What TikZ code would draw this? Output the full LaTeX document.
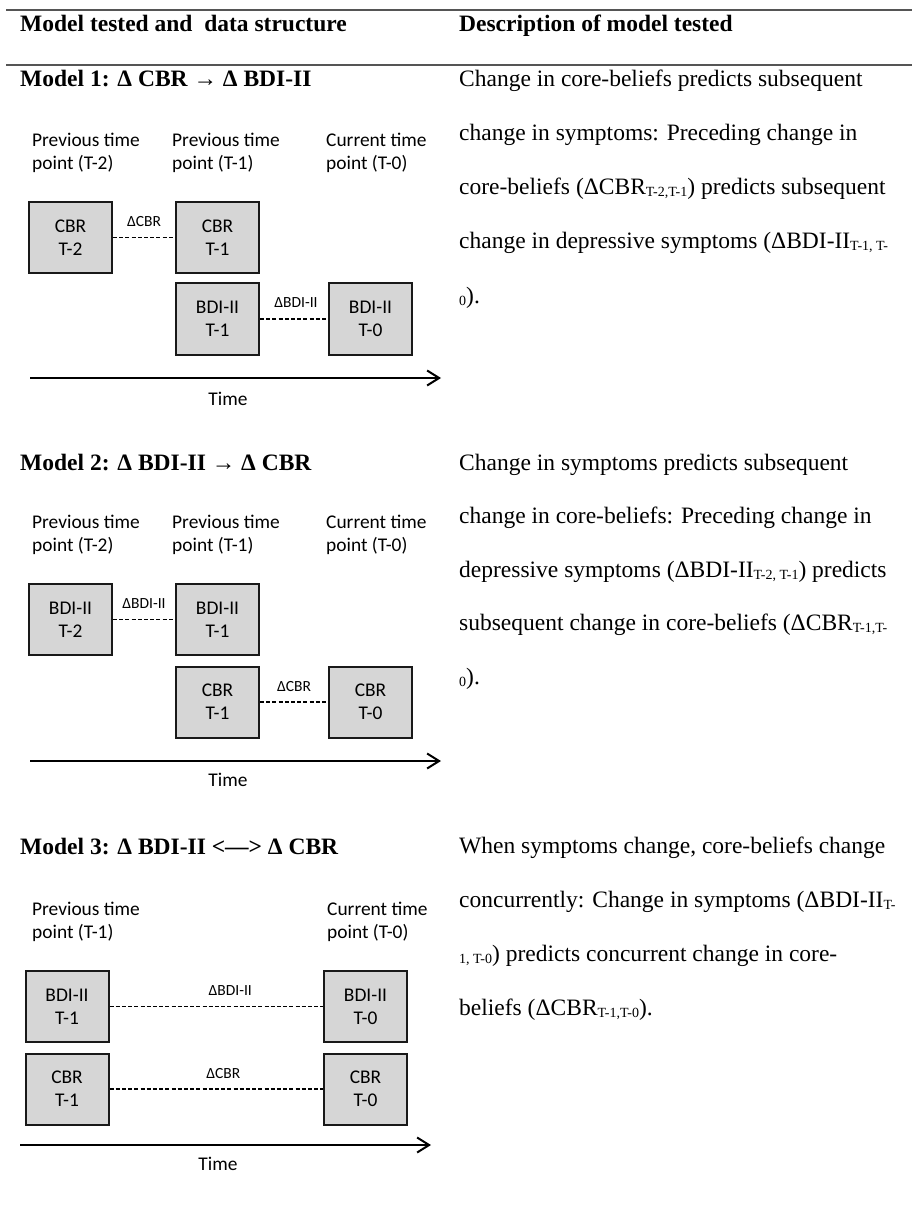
\documentclass[tikz,border=0pt]{standalone}
\usepackage{fontspec}
\setmainfont{Liberation Serif}
\newfontfamily\calfont{Carlito}
\usetikzlibrary{arrows.meta}
\definecolor{boxgray}{RGB}{214,214,214}
\definecolor{rulegray}{RGB}{85,85,85}
\newcommand{\subtx}[1]{{\fontsize{14}{14}\selectfont\raisebox{-2pt}{#1}}}
\tikzset{
  hrule/.style={line width=2pt, draw=rulegray},
  hdr/.style={anchor=base west, inner sep=0pt, font=\bfseries\fontsize{23.5}{28}\selectfont},
  body/.style={anchor=base west, inner sep=0pt, font=\fontsize{23.5}{28}\selectfont},
  tlab/.style={anchor=base west, inner sep=0pt, font=\calfont\fontsize{19.4}{23}\selectfont},
  bx/.style={draw=black!90, line width=2pt, fill=boxgray, minimum width=83pt, minimum height=71pt,
    inner sep=0pt, align=center, font=\calfont\fontsize{19.4}{23}\selectfont},
  dline/.style={line width=1.6pt, dash pattern=on 4pt off 2.2pt},
  dlab/.style={anchor=base, inner sep=0pt, font=\calfont\fontsize{15.5}{18}\selectfont},
  tarrow/.style={-{Straight Barb[length=12pt,width=15pt]}, line width=2pt},
}
\begin{document}
\begin{tikzpicture}[x=1pt,y=-1pt]
\useasboundingbox (0,0) rectangle (912,1214);
% table rules
\coordinate (r1a) at (6,10); \coordinate (r1b) at (912,10);
\coordinate (r2a) at (6,65); \coordinate (r2b) at (912,65);
\draw[hrule] (r1a) -- (r1b);
\draw[hrule] (r2a) -- (r2b);
\node[hdr] (h1) at (20,32) {Model tested and\ \ data structure};
\node[hdr] (h2) at (459,32) {Description of model tested};

% ---------------- Model 1 ----------------
\node[hdr] (m1) at (20,87) {Model 1: Δ CBR → Δ BDI-II};
\node[body] (m1l1) at (459,87) {Change in core-beliefs predicts subsequent};
\node[body] (m1l2) at (459,141) {change in symptoms: Preceding change in};
\node[body] (m1l3) at (459,195) {core-beliefs (ΔCBR\subtx{T-2,T-1}) predicts subsequent};
\node[body] (m1l4) at (459,249) {change in depressive symptoms (ΔBDI-II\subtx{T-1, T-}};
\node[body] (m1l5) at (459,303) {\subtx{0}).};

\node[tlab] (a1p1) at (32,147) {Previous time};
\node[tlab] (a1p2) at (32,170) {point (T-2)};
\node[tlab] (a1q1) at (172,147) {Previous time};
\node[tlab] (a1q2) at (172,170) {point (T-1)};
\node[tlab] (a1c1) at (326,147) {Current time};
\node[tlab] (a1c2) at (326,170) {point (T-0)};

\node[bx] (a1cbr2) at (70.5,237.5) {CBR\\T-2};
\node[bx] (a1cbr1) at (217.5,237.5) {CBR\\T-1};
\node[bx] (a1bdi1) at (217.5,319) {BDI-II\\T-1};
\node[bx] (a1bdi0) at (370.5,319) {BDI-II\\T-0};
\draw[dline] (a1cbr2) -- node[dlab, yshift=11pt] {ΔCBR} (a1cbr1);
\draw[dline] (a1bdi1) -- node[dlab, yshift=11pt, xshift=2pt] {ΔBDI-II} (a1bdi0);
\coordinate (a1s) at (30,378); \coordinate (a1e) at (441,378);
\draw[tarrow] (a1s) -- (a1e);
\node[tlab, anchor=base] (a1time) at (228,405) {Time};

% ---------------- Model 2 ----------------
\node[hdr] (m2) at (20,470) {Model 2: Δ BDI-II → Δ CBR};
\node[body] (m2l1) at (459,470) {Change in symptoms predicts subsequent};
\node[body] (m2l2) at (459,523.5) {change in core-beliefs: Preceding change in};
\node[body] (m2l3) at (459,577) {depressive symptoms (ΔBDI-II\subtx{T-2, T-1}) predicts};
\node[body] (m2l4) at (459,630.5) {subsequent change in core-beliefs (ΔCBR\subtx{T-1,T-}};
\node[body] (m2l5) at (459,684.5) {\subtx{0}).};

\node[tlab] (a2p1) at (32,528) {Previous time};
\node[tlab] (a2p2) at (32,551) {point (T-2)};
\node[tlab] (a2q1) at (172,528) {Previous time};
\node[tlab] (a2q2) at (172,551) {point (T-1)};
\node[tlab] (a2c1) at (326,528) {Current time};
\node[tlab] (a2c2) at (326,551) {point (T-0)};

\node[bx] (a2bdi2) at (70.5,619.5) {BDI-II\\T-2};
\node[bx] (a2bdi1) at (217.5,619.5) {BDI-II\\T-1};
\node[bx] (a2cbr1) at (217.5,702) {CBR\\T-1};
\node[bx] (a2cbr0) at (370.5,702) {CBR\\T-0};
\draw[dline] (a2bdi2) -- node[dlab, yshift=11pt] {ΔBDI-II} (a2bdi1);
\draw[dline] (a2cbr1) -- node[dlab, yshift=11pt] {ΔCBR} (a2cbr0);
\coordinate (a2s) at (30,761); \coordinate (a2e) at (441,761);
\draw[tarrow] (a2s) -- (a2e);
\node[tlab, anchor=base] (a2time) at (228,786) {Time};

% ---------------- Model 3 ----------------
\node[hdr] (m3) at (20,854) {Model 3: Δ BDI-II <—> Δ CBR};
\node[body] (m3l1) at (459,853) {When symptoms change, core-beliefs change};
\node[body] (m3l2) at (459,907) {concurrently: Change in symptoms (ΔBDI-II\subtx{T-}};
\node[body] (m3l3) at (459,961) {\subtx{1, T-0}) predicts concurrent change in core-};
\node[body] (m3l4) at (459,1015) {beliefs (ΔCBR\subtx{T-1,T-0}).};

\node[tlab] (a3p1) at (32,915) {Previous time};
\node[tlab] (a3p2) at (32,938) {point (T-1)};
\node[tlab] (a3c1) at (327,915) {Current time};
\node[tlab] (a3c2) at (327,938) {point (T-0)};

\node[bx] (a3bdi1) at (67,1006.5) {BDI-II\\T-1};
\node[bx] (a3bdi0) at (365.5,1006.5) {BDI-II\\T-0};
\node[bx] (a3cbr1) at (67,1089) {CBR\\T-1};
\node[bx] (a3cbr0) at (365.5,1089) {CBR\\T-0};
\draw[dline] (a3bdi1) -- node[dlab, yshift=11pt, xshift=14pt] {ΔBDI-II} (a3bdi0);
\draw[dline] (a3cbr1) -- node[dlab, yshift=11pt, xshift=7pt] {ΔCBR} (a3cbr0);
\coordinate (a3s) at (20,1145); \coordinate (a3e) at (431,1145);
\draw[tarrow] (a3s) -- (a3e);
\node[tlab, anchor=base] (a3time) at (218,1170) {Time};
\end{tikzpicture}
\end{document}
